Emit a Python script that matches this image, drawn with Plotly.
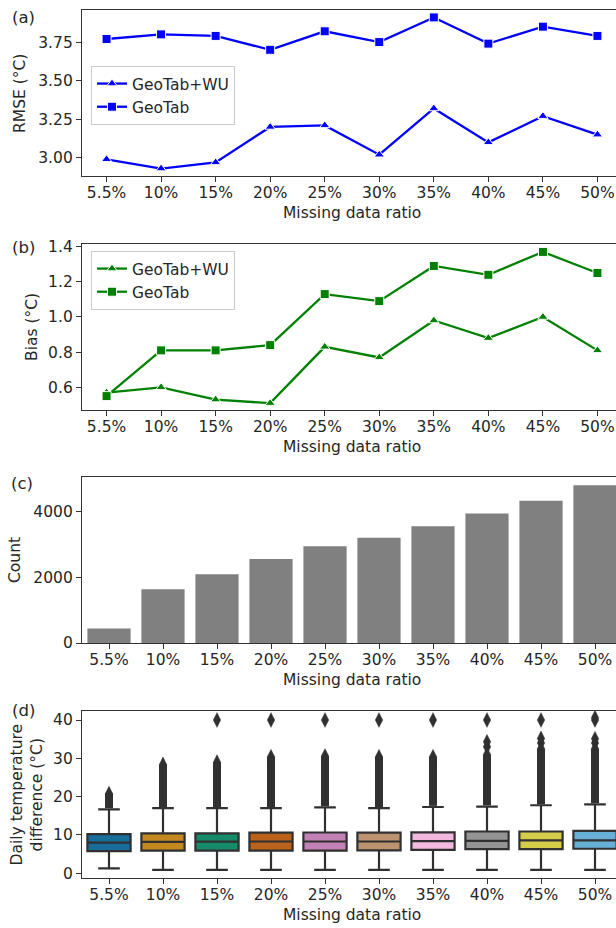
import colorsys
import plotly.graph_objects as go

# ---------------- data ----------------
ratios = ["5.5%", "10%", "15%", "20%", "25%", "30%", "35%", "40%", "45%", "50%"]

rmse_geotab_wu = [2.99, 2.93, 2.97, 3.20, 3.21, 3.02, 3.32, 3.10, 3.27, 3.15]
rmse_geotab = [3.77, 3.80, 3.79, 3.70, 3.82, 3.75, 3.91, 3.74, 3.85, 3.79]

bias_geotab_wu = [0.57, 0.60, 0.53, 0.51, 0.83, 0.77, 0.98, 0.88, 1.00, 0.81]
bias_geotab = [0.55, 0.81, 0.81, 0.84, 1.13, 1.09, 1.29, 1.24, 1.37, 1.25]

counts = [440, 1640, 2100, 2560, 2950, 3210, 3560, 3950, 4340, 4810]

box_low = [1.3, 0.9, 0.9, 0.9, 0.9, 0.9, 0.9, 0.9, 0.9, 0.9]
box_q1 = [5.8, 5.9, 5.9, 5.9, 5.9, 6.0, 6.1, 6.3, 6.3, 6.4]
box_median = [8.0, 8.2, 8.25, 8.3, 8.3, 8.3, 8.4, 8.45, 8.6, 8.6]
box_q3 = [10.2, 10.4, 10.4, 10.6, 10.65, 10.6, 10.7, 10.9, 10.9, 11.05]
box_high = [16.7, 17.0, 17.0, 17.0, 17.2, 17.0, 17.3, 17.4, 17.75, 18.0]
# dense outlier column: from just above the upper whisker up to flier_top
flier_bottom = [17.0, 17.3, 17.3, 17.3, 17.5, 17.3, 17.6, 17.7, 18.0, 18.3]
flier_top = [20.8, 28.4, 29.0, 30.4, 30.6, 30.4, 30.4, 31.0, 32.5, 32.5]
flier_extra = [[], [], [40.0], [40.0], [40.0], [40.0], [40.0],
               [33.0, 34.3, 40.0], [34.0, 35.2, 40.0], [34.0, 35.1, 40.0, 40.6]]

palette = ["#0173b2", "#de8f05", "#029e73", "#d55e00", "#cc78bc",
           "#ca9161", "#fbafe4", "#949494", "#ece133", "#56b4e9"]

# ---------------- style ----------------
W, H = 616, 928
FS = 15.5
FONT = "DejaVu Sans"
TEXT = "#262626"
LINE = "#333333"
BOXLINE = "#303030"


def desat(hexc, prop=0.75):
    r, g, b = [int(hexc[i:i + 2], 16) / 255 for i in (1, 3, 5)]
    h, l, s = colorsys.rgb_to_hls(r, g, b)
    r, g, b = colorsys.hls_to_rgb(h, l, s * prop)
    return f"rgb({r*255:.0f},{g*255:.0f},{b*255:.0f})"


def px_x(x):
    return x / W


def px_y(y):
    return 1 - y / H


panels = [(10, 176), (244, 410), (477, 643), (711, 878)]  # top, bottom in px
left_px = 82
xdom = [px_x(left_px), 1.0]
idx = list(range(len(ratios)))

fig = go.Figure()

# (a) RMSE
fig.add_trace(go.Scatter(x=idx, y=rmse_geotab_wu, name="GeoTab+WU", mode="lines+markers",
                         line=dict(color="#0000ff", width=2.3),
                         marker=dict(symbol="triangle-up", size=9, line=dict(color="white", width=1)),
                         xaxis="x", yaxis="y", legend="legend"))
fig.add_trace(go.Scatter(x=idx, y=rmse_geotab, name="GeoTab", mode="lines+markers",
                         line=dict(color="#0000ff", width=2.3),
                         marker=dict(symbol="square", size=9, line=dict(color="white", width=1)),
                         xaxis="x", yaxis="y", legend="legend"))

# (b) Bias
fig.add_trace(go.Scatter(x=idx, y=bias_geotab_wu, name="GeoTab+WU", mode="lines+markers",
                         line=dict(color="#008000", width=2.3),
                         marker=dict(symbol="triangle-up", size=9, line=dict(color="white", width=1)),
                         xaxis="x2", yaxis="y2", legend="legend2"))
fig.add_trace(go.Scatter(x=idx, y=bias_geotab, name="GeoTab", mode="lines+markers",
                         line=dict(color="#008000", width=2.3),
                         marker=dict(symbol="square", size=9, line=dict(color="white", width=1)),
                         xaxis="x2", yaxis="y2", legend="legend2"))

# (c) Count
fig.add_trace(go.Bar(x=idx, y=counts, width=0.8, marker=dict(color="#808080", line=dict(width=0)),
                     xaxis="x3", yaxis="y3", showlegend=False))

# (d) boxes
for i in idx:
    fig.add_trace(go.Scatter(x=[i, i], y=[flier_bottom[i], flier_top[i]], mode="lines",
                             line=dict(color=BOXLINE, width=8), xaxis="x4", yaxis="y4",
                             showlegend=False, hoverinfo="skip"))
    ys = [flier_top[i]] + flier_extra[i]
    fig.add_trace(go.Scatter(x=[i] * len(ys), y=ys, mode="markers",
                             marker=dict(symbol="diamond-tall", size=10.5, color=BOXLINE,
                                         line=dict(color=BOXLINE, width=0.5)),
                             xaxis="x4", yaxis="y4", showlegend=False))
    fig.add_trace(go.Box(x=[i], q1=[box_q1[i]], median=[box_median[i]], q3=[box_q3[i]],
                         lowerfence=[box_low[i]], upperfence=[box_high[i]],
                         width=0.8, whiskerwidth=0.5, boxpoints=False,
                         fillcolor=desat(palette[i]), line=dict(color=BOXLINE, width=2.2),
                         xaxis="x4", yaxis="y4", showlegend=False))


def xaxis(anchor, rng):
    return dict(domain=xdom, anchor=anchor, range=rng, tickmode="array", tickvals=idx, ticktext=ratios,
                ticks="outside", ticklen=5, tickwidth=1.3, tickcolor=LINE, ticklabelstandoff=-3,
                showline=True, linecolor=LINE, linewidth=1.3, mirror=True, automargin=False,
                showgrid=False, zeroline=False, tickfont=dict(size=FS, color=TEXT, family=FONT))


def yaxis(anchor, panel, rng, tickvals, ticktext):
    top, bot = panel
    return dict(domain=[px_y(bot), px_y(top)], anchor=anchor, range=rng,
                tickmode="array", tickvals=tickvals, ticktext=ticktext,
                ticks="outside", ticklen=5, tickwidth=1.3, tickcolor=LINE, automargin=False,
                showline=True, linecolor=LINE, linewidth=1.3, mirror=False,
                showgrid=False, zeroline=False, tickfont=dict(size=FS, color=TEXT, family=FONT))


line_rng = [-0.45, -0.45 + 9.9 * (534 / 540)]
bar_rng = [-0.5, -0.5 + 10 * (534 / 540)]

layout = dict(
    width=W, height=H, margin=dict(l=0, r=0, t=0, b=0, pad=0),
    paper_bgcolor="white", plot_bgcolor="white",
    font=dict(family=FONT, size=FS, color=TEXT),
    boxmode="overlay", barmode="overlay",
    xaxis=xaxis("y", line_rng),
    xaxis2=xaxis("y2", line_rng),
    xaxis3=xaxis("y3", bar_rng),
    xaxis4=xaxis("y4", bar_rng),
    yaxis=yaxis("x", panels[0], [2.882, 3.958], [3.0, 3.25, 3.5, 3.75], ["3.00", "3.25", "3.50", "3.75"]),
    yaxis2=yaxis("x2", panels[1], [0.471, 1.415], [0.6, 0.8, 1.0, 1.2, 1.4], ["0.6", "0.8", "1.0", "1.2", "1.4"]),
    yaxis3=yaxis("x3", panels[2], [0, 5063], [0, 2000, 4000], ["0", "2000", "4000"]),
    yaxis4=yaxis("x4", panels[3], [-1.23, 42.35], [0, 10, 20, 30, 40], ["0", "10", "20", "30", "40"]),
    legend=dict(x=px_x(91), y=px_y(66), xanchor="left", yanchor="top",
                bgcolor="rgba(255,255,255,0.85)", bordercolor="#cccccc", borderwidth=1,
                font=dict(size=FS, color=TEXT, family=FONT), itemwidth=30, tracegroupgap=0),
    legend2=dict(x=px_x(91), y=px_y(251), xanchor="left", yanchor="top",
                 bgcolor="rgba(255,255,255,0.85)", bordercolor="#cccccc", borderwidth=1,
                 font=dict(size=FS, color=TEXT, family=FONT), itemwidth=30, tracegroupgap=0),
)
fig.update_layout(**layout)

annos = []
# panel letters
for txt, (x, y) in zip(["(a)", "(b)", "(c)", "(d)"], [(23, 18), (23, 248), (22, 483), (23, 710)]):
    annos.append(dict(text=txt, x=px_x(x), y=px_y(y), xref="paper", yref="paper",
                      xanchor="center", yanchor="middle", showarrow=False,
                      font=dict(size=FS + 1, color=TEXT, family=FONT)))
# x titles
for (top, bot) in panels:
    annos.append(dict(text="Missing data ratio", x=px_x(352), y=px_y(bot + 37), xref="paper", yref="paper",
                      xanchor="center", yanchor="middle", showarrow=False,
                      font=dict(size=FS, color=TEXT, family=FONT)))
# y titles
ytitles = ["RMSE (°C)", "Bias (°C)", "Count", "Daily temperature<br>difference (°C)"]
yx = [20, 32, 15, 26]
for txt, x, (top, bot) in zip(ytitles, yx, panels):
    annos.append(dict(text=txt, x=px_x(x), y=px_y((top + bot) / 2), xref="paper", yref="paper",
                      xanchor="center", yanchor="middle", showarrow=False, textangle=-90,
                      font=dict(size=FS, color=TEXT, family=FONT)))
fig.update_layout(annotations=annos)

fig.write_html(
    "out.html",
    config={"displayModeBar": False},
    post_script="document.body.style.margin='0';document.body.style.overflow='hidden';",
)
